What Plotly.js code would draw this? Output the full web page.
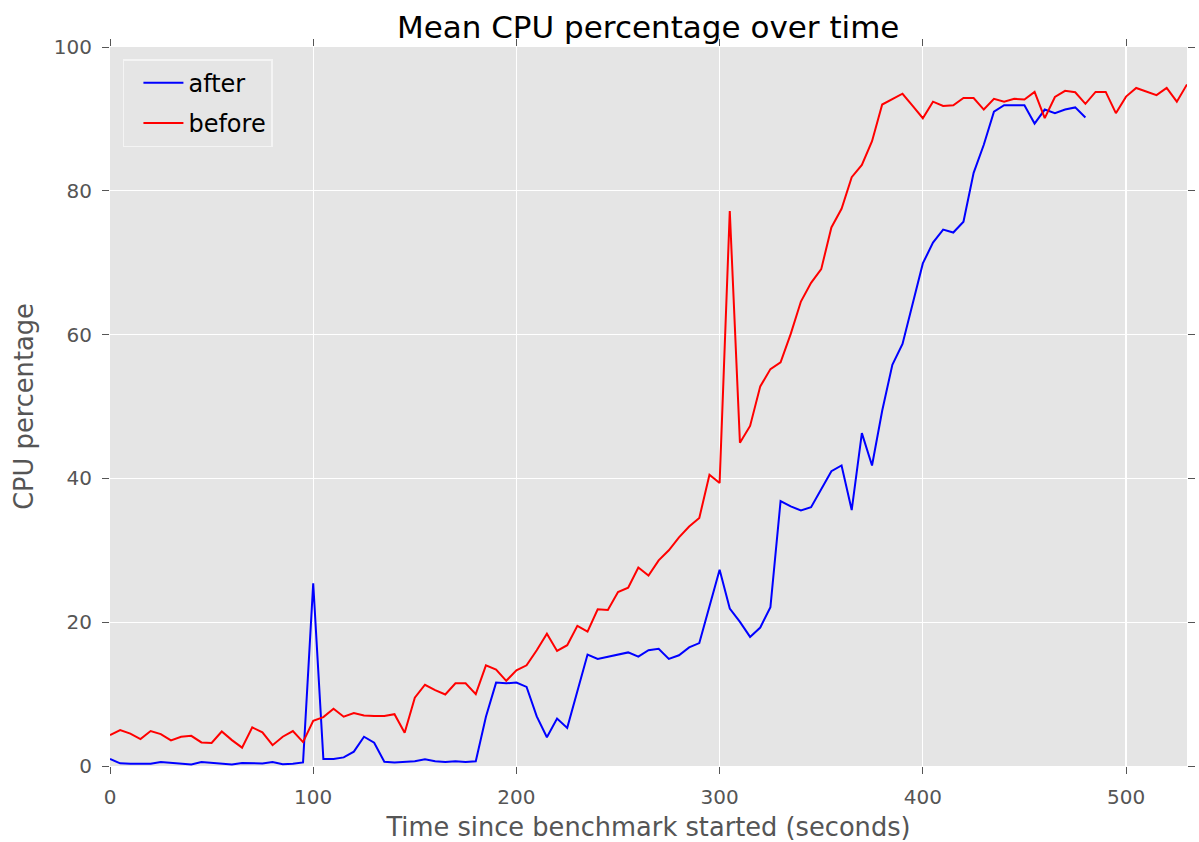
<!DOCTYPE html>
<html>
<head>
<meta charset="utf-8">
<script src="https://cdn.plot.ly/plotly-3.0.1.min.js"></script>
<style>html,body{margin:0;padding:0;background:#fff;}#chart{width:1199px;height:842px;}</style>
</head>
<body>
<div id="chart"></div>
<script>
const timeAfter = [0,5,10,15,20,25,30,35,40,45,50,55,60,65,70,75,80,85,90,95,
  100,105,110,115,120,125,130,135,140,145,150,155,160,165,170,175,180,185,190,195,
  200,205,210,215,220,225,230,235,240,245,250,255,260,265,270,275,280,285,290,295,
  300,305,310,315,320,325,330,335,340,345,350,355,360,365,370,375,380,385,390,395,
  400,405,410,415,420,425,430,435,440,445,450,455,460,465,470,475,480];
const cpuAfter = [0.97,0.37,0.3,0.3,0.3,0.55,0.4,0.3,0.2,0.55,0.4,0.35,0.2,0.4,0.35,0.35,0.55,0.25,0.3,0.5,
  25.4,0.97,0.97,1.2,2.0,4.07,3.24,0.6,0.5,0.55,0.65,0.93,0.65,0.55,0.65,0.55,0.65,6.86,11.6,11.5,
  11.6,11.0,6.9,4.0,6.6,5.3,10.3,15.5,14.9,15.2,15.4,15.8,15.2,16.1,16.3,14.9,15.4,16.5,17.1,22.3,
  27.3,21.9,20.05,17.96,19.26,22.1,36.85,36.1,35.55,36.0,38.4,41.0,41.8,35.6,46.3,41.8,49.4,55.8,58.7,64.2,
  69.9,72.8,74.6,74.2,75.7,82.5,86.4,91.0,91.9,91.9,91.9,89.35,91.3,90.8,91.3,91.6,90.2];

const timeBefore = [0,5,10,15,20,25,30,35,40,45,50,55,60,65,70,75,80,85,90,95,
  100,105,110,115,120,125,130,135,140,145,150,155,160,165,170,175,180,185,190,195,
  200,205,210,215,220,225,230,235,240,245,250,255,260,265,270,275,280,285,290,295,
  300,305,310,315,320,325,330,335,340,345,350,355,360,365,370,375,380,385,390,395,
  400,405,410,415,420,425,430,435,440,445,450,455,460,465,470,475,480,485,490,495,
  500,505,510,515,520,525,530];
const cpuBefore = [4.3,5.0,4.5,3.75,4.86,4.44,3.56,4.07,4.2,3.28,3.2,4.8,3.6,2.55,5.37,4.67,2.9,4.07,4.86,3.33,
  6.3,6.8,7.96,6.86,7.36,7.03,6.94,6.94,7.2,4.63,9.5,11.3,10.56,9.95,11.5,11.5,10.0,14.0,13.4,11.85,
  13.3,14.0,16.1,18.4,16.0,16.8,19.5,18.7,21.8,21.7,24.2,24.8,27.6,26.5,28.6,30.0,31.8,33.3,34.5,40.5,
  39.35,77.2,44.95,47.3,52.8,55.2,56.15,60.1,64.6,67.2,69.1,74.9,77.5,81.9,83.6,86.9,92.0,92.7,93.5,91.8,
  90.1,92.4,91.8,91.9,92.9,92.9,91.3,92.8,92.4,92.8,92.7,93.75,90.1,93.05,93.9,93.7,92.1,93.75,93.75,90.8,
  93.1,94.3,93.8,93.3,94.3,92.4,94.8];

const xTicks = [0,100,200,300,400,500];
const yTicks = [0,20,40,60,80,100];

const FONT = 'DejaVu Sans, sans-serif';
const traces = [
  {x: timeAfter, y: cpuAfter, name: 'after', type: 'scatter', mode: 'lines',
   line: {color: '#0000FF', width: 2}, legendgroup: 'a'},
  {x: timeBefore, y: cpuBefore, name: 'before', type: 'scatter', mode: 'lines',
   line: {color: '#FF0000', width: 2}, legendgroup: 'b'}
];

const axisCommon = {
  showline: false, zeroline: false, showgrid: true, gridcolor: '#FFFFFF', gridwidth: 1.3,
  ticks: 'outside', ticklen: 7, tickwidth: 1, tickcolor: '#555555', mirror: 'ticks',
  tickfont: {family: FONT, size: 20, color: '#555555'}
};

const layout = {
  width: 1199, height: 842,
  margin: {l: 110, r: 12, t: 47, b: 76, pad: 0},
  paper_bgcolor: '#FFFFFF', plot_bgcolor: '#E5E5E5',
  title: {text: 'Mean CPU percentage over time', font: {family: FONT, size: 31, color: '#000000'},
          x: 0.5406, xanchor: 'center', y: 0.968, yanchor: 'middle'},
  xaxis: Object.assign({}, axisCommon, {
    range: [0, 530], tickvals: xTicks, ticktext: xTicks.map(String),
    ticklabelstandoff: 6,
    title: {text: 'Time since benchmark started (seconds)', font: {family: FONT, size: 25.7, color: '#555555'}, standoff: 11}
  }),
  yaxis: Object.assign({}, axisCommon, {
    range: [0, 100], tickvals: yTicks, ticktext: yTicks.map(String),
    ticklabelstandoff: 6,
    title: {text: 'CPU percentage', font: {family: FONT, size: 25.7, color: '#555555'}, standoff: 12}
  }),
  showlegend: true,
  legend: {x: 0.012, y: 0.983, xanchor: 'left', yanchor: 'top',
           bgcolor: '#E5E5E5', bordercolor: '#F4F4F4', borderwidth: 1.5,
           font: {family: FONT, size: 24, color: '#000000'},
           tracegroupgap: 6, traceorder: 'grouped', itemwidth: 40, indentation: 14}
};

Plotly.newPlot('chart', traces, layout, {displayModeBar: false, staticPlot: true});
</script>
</body>
</html>
